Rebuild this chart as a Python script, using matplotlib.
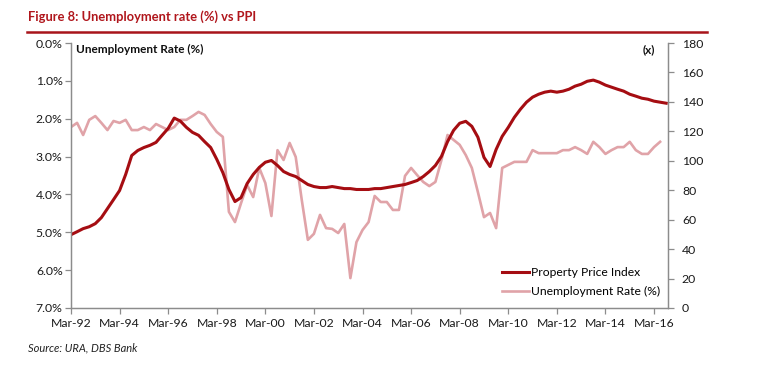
import matplotlib.pyplot as plt
import numpy as np

plt.rcParams['font.family'] = ['Lato', 'DejaVu Sans']

# quarterly, Mar-92 onwards
ppi = [49.8, 51.8, 53.9, 55.2, 57.3, 61.4, 67.5, 73.6,
       79.8, 90.7, 103.6, 107.0, 109.0, 110.5, 112.5, 117.3,
       122.0, 129.0, 127.0, 122.7, 119.3, 117.3, 113.0, 109.0,
       101.0, 92.0, 80.5, 72.3, 75.0, 84.5, 90.7, 95.5,
       99.0, 100.2, 96.8, 92.7, 90.7, 89.3, 86.6, 83.9,
       82.5, 81.8, 81.8, 82.5, 81.8, 81.1, 81.1, 80.5,
       80.5, 80.5, 81.1, 81.1, 81.8, 82.5, 83.2, 83.9,
       85.2, 86.6, 89.3, 92.7, 96.8, 103.0, 113.0, 120.7,
       125.5, 126.8, 123.4, 116.0, 102.3, 96.1, 107.7, 116.6,
       122.7, 129.5, 135.0, 139.8, 143.2, 145.2, 146.6, 147.3,
       146.6, 147.3, 148.6, 150.7, 152.0, 154.0, 154.8, 153.4,
       151.4, 150.0, 148.6, 147.3, 145.2, 143.9, 142.5, 141.8,
       140.5, 139.8, 139.1]

unemp = [2.22, 2.11, 2.43, 2.03, 1.93, 2.11, 2.30, 2.06,
         2.11, 2.03, 2.30, 2.30, 2.22, 2.30, 2.14, 2.22,
         2.30, 2.22, 2.03, 2.03, 1.93, 1.82, 1.90, 2.14,
         2.35, 2.48, 4.46, 4.73, 4.23, 3.75, 4.07, 3.30,
         3.70, 4.57, 2.83, 3.09, 2.64, 3.01, 4.15, 5.20,
         5.04, 4.54, 4.89, 4.91, 5.02, 4.78, 6.21, 5.26,
         4.94, 4.73, 4.04, 4.20, 4.20, 4.41, 4.41, 3.51,
         3.30, 3.49, 3.67, 3.78, 3.67, 3.09, 2.43, 2.56,
         2.69, 2.96, 3.30, 3.94, 4.60, 4.49, 4.89, 3.30,
         3.22, 3.14, 3.14, 3.14, 2.83, 2.91, 2.91, 2.91,
         2.91, 2.83, 2.83, 2.75, 2.83, 2.93, 2.61, 2.75,
         2.93, 2.83, 2.75, 2.75, 2.61, 2.83, 2.93, 2.93,
         2.75, 2.61]

tick_labels = ['Mar-92', 'Mar-94', 'Mar-96', 'Mar-98', 'Mar-00', 'Mar-02', 'Mar-04',
               'Mar-06', 'Mar-08', 'Mar-10', 'Mar-12', 'Mar-14', 'Mar-16']

dark = '#A50D12'
pink = '#E0A3A8'
grey = '#8C8C8C'

fig = plt.figure(figsize=(7.62, 3.80), dpi=100)
ax = fig.add_axes([71/762, 1-308/380, (668-71)/762, (308-43)/380])
ax2 = ax.twinx()

q_u = np.arange(len(unemp))
q_p = np.arange(len(ppi))
l2, = ax.plot(q_u, unemp, color=pink, lw=1.9, label='Unemployment Rate (%)')
l1, = ax2.plot(q_p, ppi, color=dark, lw=2.2, label='Property Price Index')

ax.set_ylim(7, 0)
ax.set_yticks(np.arange(0, 8, 1))
ax.set_yticklabels(['%.1f%%' % v for v in range(8)])
ax2.set_ylim(0, 180)
ax2.set_yticks(np.arange(0, 181, 20))
ax.set_xlim(0, 98.3)
ax.set_xticks(np.arange(0, 97, 8))
ax.set_xticklabels(tick_labels)

for a in (ax, ax2):
    for s in a.spines.values():
        s.set_color(grey)
        s.set_linewidth(0.9)
    a.spines['top'].set_visible(False)
    a.tick_params(colors=grey, labelcolor='#1a1a1a', labelsize=8.8, length=4, width=0.9)
ax.tick_params(axis='y', pad=2)
ax2.tick_params(axis='y', pad=6)

ax.text(0.008, 0.995, 'Unemployment Rate (%)', transform=ax.transAxes, fontsize=8.5,
        fontweight='bold', va='top', ha='left', color='#111111')
ax.text(0.978, 0.995, '(x)', transform=ax.transAxes, fontsize=8.5,
        fontweight='bold', va='top', ha='right', color='#111111')

ax2.legend(handles=[l1, l2], loc='lower right', bbox_to_anchor=(1.005, 0.0),
           frameon=False, fontsize=8.7, handlelength=2.2, handletextpad=0.2,
           labelspacing=0.65)

fig.text(28/762, 1-17/380, 'Figure 8: Unemployment rate (%) vs PPI', fontsize=9.3,
         fontweight='bold', color='#B0161C', va='center', ha='left')
fig.add_artist(plt.Line2D([27/762, 707/762], [1-31.5/380, 1-31.5/380],
                          color='#A8141A', lw=1.8, transform=fig.transFigure))
fig.text(28/762, 1-348/380, 'Source: URA, DBS Bank', fontsize=8, style='italic',
         color='#222222', va='center', ha='left')

fig.savefig('out.png', dpi=100)
